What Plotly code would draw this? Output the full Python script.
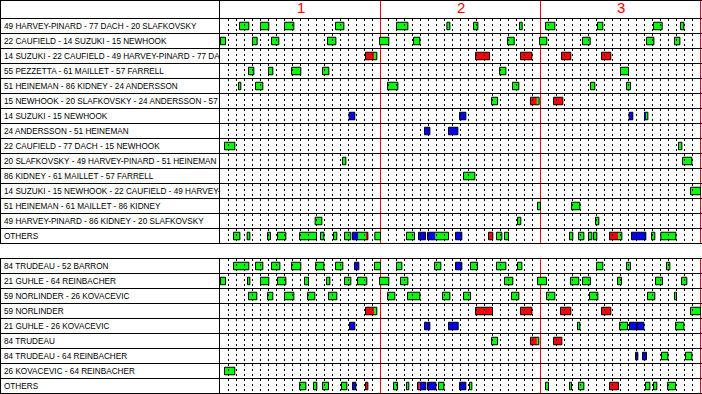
import plotly.graph_objects as go

# ---------------- data ----------------
PERIOD_LABELS = ["1", "2", "3"]
PERIOD_MID_MIN = [10, 30, 50]

FWD_LINES = [
    "49 HARVEY-PINARD - 77 DACH - 20 SLAFKOVSKY",
    "22 CAUFIELD - 14 SUZUKI - 15 NEWHOOK",
    "14 SUZUKI - 22 CAUFIELD - 49 HARVEY-PINARD - 77 DA",
    "55 PEZZETTA - 61 MAILLET - 57 FARRELL",
    "51 HEINEMAN - 86 KIDNEY - 24 ANDERSSON",
    "15 NEWHOOK - 20 SLAFKOVSKY - 24 ANDERSSON - 57",
    "14 SUZUKI - 15 NEWHOOK",
    "24 ANDERSSON - 51 HEINEMAN",
    "22 CAUFIELD - 77 DACH - 15 NEWHOOK",
    "20 SLAFKOVSKY - 49 HARVEY-PINARD - 51 HEINEMAN",
    "86 KIDNEY - 61 MAILLET - 57 FARRELL",
    "14 SUZUKI - 15 NEWHOOK - 22 CAUFIELD - 49 HARVEY-",
    "51 HEINEMAN - 61 MAILLET - 86 KIDNEY",
    "49 HARVEY-PINARD - 86 KIDNEY - 20 SLAFKOVSKY",
    "OTHERS",
]
DEF_PAIRS = [
    "84 TRUDEAU - 52 BARRON",
    "21 GUHLE - 64 REINBACHER",
    "59 NORLINDER - 26 KOVACEVIC",
    "59 NORLINDER",
    "21 GUHLE - 26 KOVACEVIC",
    "84 TRUDEAU",
    "84 TRUDEAU - 64 REINBACHER",
    "26 KOVACEVIC - 64 REINBACHER",
    "OTHERS",
]

# shift = (start, state, [change, state, ...] end) ; times in game minutes
# E = even strength (green), P = power play (red), K = penalty kill (blue)
E, P, K = "E", "P", "K"

F01 = [(2.38, E, 3.54), (5.0, E, 6.04), (8.0, E, 9.17), (14.38, E, 15.42), (22.0, E, 23.42),
       (28.3, E, 28.67), (31.63, E, 32.17), (37.38, E, 37.71), (40.63, E, 41.79), (47.13, E, 47.79),
       (54.13, E, 55.21), (57.5, E, 57.92)]
F02 = [(0.0, E, 0.63), (4.0, E, 4.58), (6.38, E, 7.29), (13.38, E, 14.42), (19.88, E, 21.04),
       (24.13, E, 24.92), (35.88, E, 36.71), (39.88, E, 40.79), (45.25, E, 46.21), (53.25, E, 54.17),
       (56.75, E, 57.42)]
F03 = [(18.13, P, 19.21, E, 19.54), (31.88, P, 33.63), (37.5, P, 38.92), (42.63, P, 43.79), (47.63, P, 48.79)]
F04 = [(3.5, E, 4.17), (6.0, E, 6.54), (8.88, E, 10.04), (12.75, E, 13.54), (34.88, E, 35.67), (50.0, E, 51.0)]
F05 = [(2.25, E, 2.54), (4.38, E, 5.29), (20.88, E, 22.17), (36.5, E, 37.29), (46.25, E, 46.79), (50.75, E, 51.25)]
F06 = [(33.88, E, 34.63), (38.75, P, 39.54, E, 39.83), (41.63, P, 42.79)]
F07 = [(16.08, K, 16.79), (29.88, K, 30.67), (51.08, K, 51.54), (53.0, K, 53.13, E, 53.42)]
F08 = [(25.5, K, 26.17), (28.5, K, 29.67)]
F09 = [(0.5, E, 1.79), (57.25, E, 57.67)]
F10 = [(15.25, E, 15.67), (57.75, E, 58.92)]
F11 = [(30.38, E, 31.79)]
F12 = [(58.75, E, 60.0)]
F13 = [(39.63, E, 40.0), (43.88, E, 44.92)]
F14 = [(11.83, E, 12.67), (37.13, E, 37.54), (46.88, E, 47.29)]
F15 = [(1.63, E, 2.42), (3.33, E, 3.67), (5.88, E, 6.25), (7.13, E, 8.17), (9.88, E, 12.0),
       (12.5, E, 12.92), (14.13, E, 14.54), (15.5, E, 16.29), (16.5, K, 17.21, E, 18.21, P, 18.42),
       (19.29, E, 20.0), (23.25, E, 24.25), (24.75, K, 25.63), (25.88, K, 26.83, E, 28.5),
       (29.38, K, 30.17), (33.5, P, 34.04), (34.5, E, 35.17), (35.5, E, 36.0), (43.63, E, 44.04),
       (44.75, E, 45.42), (46.0, E, 46.42), (46.63, E, 47.04), (48.63, P, 49.71, E, 50.17),
       (51.38, K, 53.17), (53.88, E, 54.29), (55.04, E, 56.92)]

D01 = [(1.63, E, 3.54), (4.38, E, 5.29), (6.38, E, 7.42), (8.88, E, 10.04), (11.88, E, 12.92),
       (14.38, E, 15.29), (16.75, K, 17.29), (19.25, E, 20.0), (22.0, E, 22.67), (26.75, E, 27.54),
       (29.38, K, 30.17), (31.25, E, 32.13), (34.5, E, 35.67), (37.13, E, 37.67), (47.0, E, 47.79),
       (50.75, E, 51.25), (55.75, E, 56.17)]
D02 = [(0.0, E, 0.63), (3.38, E, 3.67), (5.0, E, 6.04), (7.13, E, 8.17), (10.5, E, 11.0),
       (13.25, E, 13.67), (15.5, E, 16.29), (17.13, E, 18.29), (19.88, E, 21.04), (22.5, E, 23.42),
       (35.5, E, 36.54), (39.63, E, 40.75), (43.75, E, 44.79), (45.25, E, 46.25), (49.63, E, 50.13),
       (54.38, E, 55.25), (57.63, E, 58.29)]
D03 = [(3.5, E, 4.54), (5.88, E, 6.54), (8.0, E, 9.17), (10.88, E, 11.79), (13.5, E, 14.54),
       (20.88, E, 21.79), (23.38, E, 24.92), (27.75, E, 28.67), (30.38, E, 31.25), (36.38, E, 37.29),
       (40.75, E, 41.79), (46.13, E, 47.17), (53.38, E, 54.29), (56.75, E, 57.0)]
D04 = [(18.13, P, 19.21, E, 19.54), (31.88, P, 34.0), (37.5, P, 38.92), (42.5, P, 43.79),
       (47.63, P, 48.79), (58.75, E, 60.0)]
D05 = [(16.13, K, 16.79), (25.5, K, 26.17), (28.5, K, 29.71), (44.63, E, 44.92), (49.88, E, 50.88),
       (51.13, K, 52.04), (52.04, K, 52.92), (56.88, E, 57.92)]
D06 = [(33.88, E, 34.63), (38.75, P, 39.54, E, 39.79), (41.63, P, 42.67)]
D07 = [(51.88, K, 52.17), (52.75, K, 53.25), (55.13, E, 55.92), (58.13, E, 58.92)]
D08 = [(0.5, E, 1.79)]
D09 = [(9.88, E, 10.67), (11.63, E, 12.04), (12.75, E, 13.5), (15.13, E, 15.79), (16.5, K, 16.92),
       (18.13, P, 18.42), (21.63, E, 22.13), (23.25, E, 23.54), (24.63, P, 24.88, K, 25.67),
       (25.88, K, 26.92), (27.25, E, 27.92), (29.88, K, 30.67), (31.13, E, 31.42), (40.63, E, 41.0),
       (43.63, E, 43.88), (44.75, E, 45.42), (48.63, P, 49.75), (53.13, E, 53.67), (54.13, E, 54.54),
       (55.88, E, 56.88)]

FWD_SHIFTS = [F01, F02, F03, F04, F05, F06, F07, F08, F09, F10, F11, F12, F13, F14, F15]
DEF_SHIFTS = [D01, D02, D03, D04, D05, D06, D07, D08, D09]

# ---------------- styling / layout ----------------
W, H = 702, 394
X0_PX = 220.5          # pixel of minute 0
PPM = 8.0              # pixels per minute
HEAD = 18.5
ROW = 15.0
GAP = 15.0
BOX_H = 7.5
GAME_MIN = 60
PERIOD_MIN = 20
COLORS = {E: "#00ff00", P: "#ff0000", K: "#0000ff"}
LABEL_FONT = dict(family="Liberation Sans, Arial, sans-serif", size=8.2, color="black")


def xm(px):
    return (px - X0_PX) / PPM


rows = []
for i, (lab, sh) in enumerate(zip(FWD_LINES, FWD_SHIFTS)):
    rows.append((lab, sh, HEAD + ROW * i))
top_end = HEAD + ROW * len(FWD_LINES)
bot_start = top_end + GAP
for i, (lab, sh) in enumerate(zip(DEF_PAIRS, DEF_SHIFTS)):
    rows.append((lab, sh, bot_start + ROW * i))
bot_end = bot_start + ROW * len(DEF_PAIRS)

fig = go.Figure()

# dotted minute lines, per row
dx, dy = [], []
for lab, sh, ytop in rows:
    for m in range(1, GAME_MIN):
        if m % PERIOD_MIN == 0:
            continue
        dx += [m, m, None]
        dy += [ytop + 0.5, ytop + ROW, None]
fig.add_trace(go.Scatter(x=dx, y=dy, mode="lines", hoverinfo="skip",
                         line=dict(color="black", width=1, dash="2px,3px")))

fills = {k: dict(y=[], x=[], base=[]) for k in (E, P, K)}
outl = dict(y=[], x=[], base=[])
for lab, sh, ytop in rows:
    yc = ytop + ROW / 2
    for s in sh:
        times = s[0::2]
        kinds = s[1::2]
        for k, a, b in zip(kinds, times[:-1], times[1:]):
            fills[k]["y"].append(yc)
            fills[k]["x"].append(b - a)
            fills[k]["base"].append(a)
        outl["y"].append(yc)
        outl["x"].append(times[-1] - times[0])
        outl["base"].append(times[0])

for k in (E, P, K):
    fig.add_trace(go.Bar(orientation="h", y=fills[k]["y"], x=fills[k]["x"], base=fills[k]["base"],
                         width=BOX_H, marker=dict(color=COLORS[k], line=dict(width=0)),
                         hoverinfo="skip"))
fig.add_trace(go.Bar(orientation="h", y=outl["y"], x=outl["x"], base=outl["base"], width=BOX_H,
                     marker=dict(color="rgba(0,0,0,0)", line=dict(color="black", width=1)),
                     hoverinfo="skip"))

shapes = []
xl, xr = xm(0), xm(W)
# horizontal row lines
hl = [0.5] + [HEAD + ROW * k for k in range(len(FWD_LINES) + 1)] + \
     [bot_start + ROW * k for k in range(len(DEF_PAIRS) + 1)]
for y in hl:
    shapes.append(dict(type="line", xref="x", yref="y", x0=xl, x1=xr, y0=y, y1=y,
                       line=dict(color="black", width=1), layer="above"))
sections = [(0.5, top_end), (bot_start, bot_end)]
for (ya, yb) in sections:
    for px in (0.5, 219.5):
        shapes.append(dict(type="line", xref="x", yref="y", x0=xm(px), x1=xm(px), y0=ya, y1=yb,
                           line=dict(color="black", width=1), layer="above"))
    for m in range(PERIOD_MIN, GAME_MIN + 1, PERIOD_MIN):
        shapes.append(dict(type="line", xref="x", yref="y", x0=m, x1=m, y0=ya, y1=yb,
                           line=dict(color="red", width=1), layer="below"))

annotations = []
for lab, m in zip(PERIOD_LABELS, PERIOD_MID_MIN):
    annotations.append(dict(x=m, y=7.5, xref="x", yref="y", text=lab, showarrow=False,
                            xanchor="center", yanchor="middle",
                            font=dict(family="Liberation Sans, Arial, sans-serif", size=15, color="red")))
for lab, sh, ytop in rows:
    annotations.append(dict(x=xm(2), y=ytop + ROW / 2 + 0.5, xref="x", yref="y", text=lab,
                            showarrow=False, xanchor="left", yanchor="middle", font=LABEL_FONT))

fig.update_layout(
    width=W, height=H, margin=dict(l=0, r=0, t=0, b=0),
    paper_bgcolor="white", plot_bgcolor="white",
    barmode="overlay", showlegend=False,
    shapes=shapes, annotations=annotations,
    xaxis=dict(range=[xm(0), xm(W)], visible=False, showgrid=False, zeroline=False),
    yaxis=dict(range=[H, 0], visible=False, showgrid=False, zeroline=False),
)

fig.write_html("out.html")
